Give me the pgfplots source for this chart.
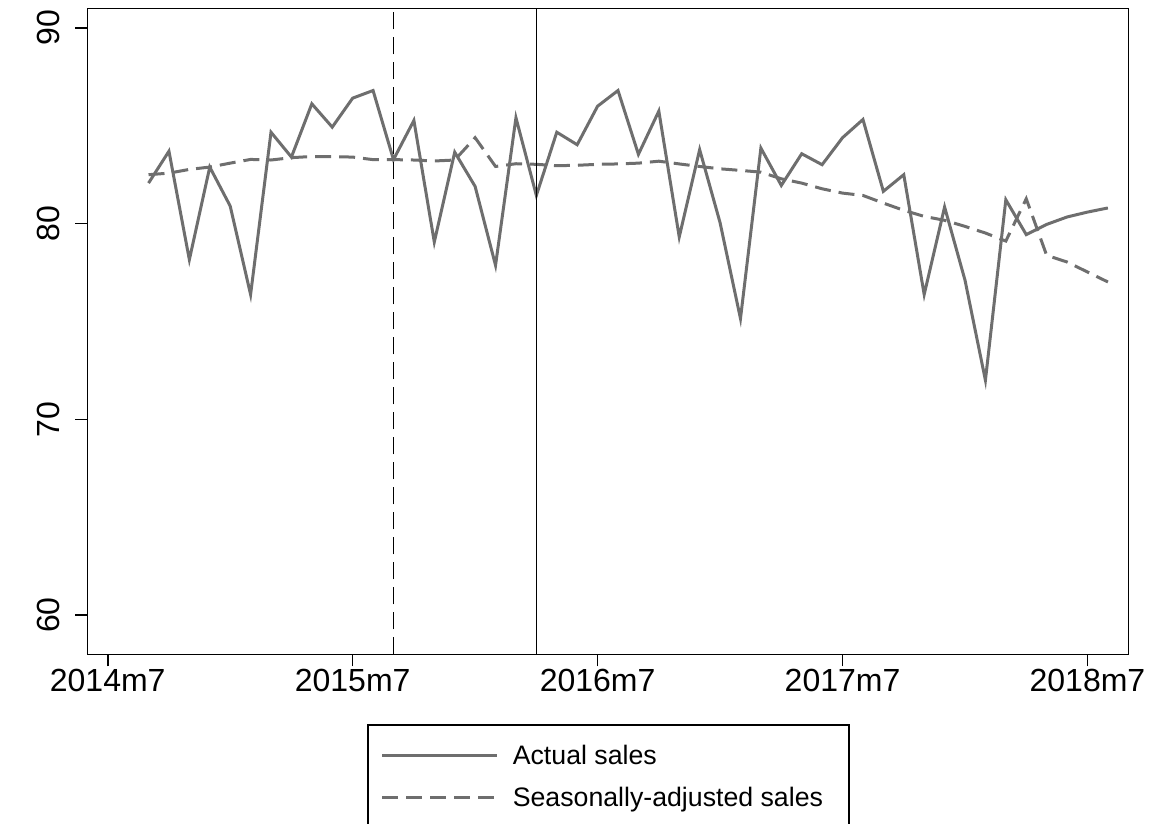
\documentclass[border=0pt]{standalone}
\usepackage{fontspec}
\setmainfont{Liberation Sans}
\usepackage{pgfplots}
\pgfplotsset{compat=1.18}
\definecolor{sgray}{RGB}{110,110,110}
\begin{document}
\begin{tikzpicture}
\path[use as bounding box] (0,0) rectangle (1151pt,823pt);
\begin{axis}[
 at={(87.3pt,168.7pt)}, anchor=south west,
 scale only axis, width=1041pt, height=646pt,
 xmin=-1, xmax=50, ymin=58, ymax=91,
 xtick={0,12,24,36,48}, xticklabels={2014m7,2015m7,2016m7,2017m7,2018m7},
 ytick={60,70,80,90},
 tick align=outside, major tick length=12pt,
 xtick pos=bottom, ytick pos=left,
 axis line style={line width=1.6pt},
 tick style={black, line width=1.6pt},
 tick label style={font=\fontsize{32}{38}\selectfont},
 /pgf/number format/assume math mode=true,
 yticklabel style={rotate=90, anchor=south, inner xsep=0pt, inner ysep=15pt},
 xticklabel style={anchor=north, inner xsep=0pt, inner ysep=3pt},
 legend style={at={(0.2687,-0.1079)}, anchor=north west, draw=black, line width=1.6pt,
   font=\fontsize{26.7}{32}\selectfont, inner xsep=13pt, inner ysep=20pt,
   row sep=21pt, column sep=14pt, nodes={inner sep=0pt}},
 legend cell align=left,
 legend image code/.code={\draw[#1] (0pt,0pt) -- (115pt,0pt);},
]
\addplot[sgray, line width=3pt] coordinates {
(2,82.07)(3,83.70)(4,78.16)(5,82.89)(6,80.90)(7,76.38)(8,84.67)(9,83.40)(10,86.12)(11,84.93)(12,86.41)(13,86.80)(14,83.27)(15,85.27)(16,79.06)(17,83.65)(18,81.90)(19,77.87)(20,85.41)(21,81.44)(22,84.67)(23,84.03)(24,86.00)(25,86.80)(26,83.54)(27,85.75)(28,79.32)(29,83.78)(30,80.05)(31,75.15)(32,83.86)(33,81.95)(34,83.57)(35,83.01)(36,84.39)(37,85.32)(38,81.65)(39,82.50)(40,76.38)(41,80.85)(42,77.11)(43,72.00)(44,81.22)(45,79.44)(46,79.96)(47,80.34)(48,80.59)(49,80.80)};
\addlegendentry{Actual sales}
\addplot[sgray, line width=3pt, dash pattern=on 16pt off 8pt] coordinates {
(2,82.50)(3,82.58)(4,82.77)(5,82.89)(6,83.09)(7,83.28)(8,83.25)(9,83.37)(10,83.43)(11,83.42)(12,83.40)(13,83.27)(14,83.27)(15,83.25)(16,83.20)(17,83.25)(18,84.39)(19,82.92)(20,83.06)(21,83.03)(22,82.96)(23,82.98)(24,83.03)(25,83.05)(26,83.09)(27,83.19)(28,83.05)(29,82.92)(30,82.80)(31,82.72)(32,82.63)(33,82.29)(34,82.07)(35,81.78)(36,81.56)(37,81.44)(38,81.05)(39,80.68)(40,80.37)(41,80.17)(42,79.86)(43,79.52)(44,79.11)(45,81.27)(46,78.38)(47,78.04)(48,77.53)(49,77.02)};
\addlegendentry{Seasonally-adjusted sales\hspace*{13pt}}
\addplot[black, line width=1.6pt, dash pattern=on 17pt off 8pt, forget plot] coordinates {(14,58)(14,91)};
\addplot[black, line width=1.6pt, forget plot] coordinates {(21,58)(21,91)};
\end{axis}
\end{tikzpicture}
\end{document}
